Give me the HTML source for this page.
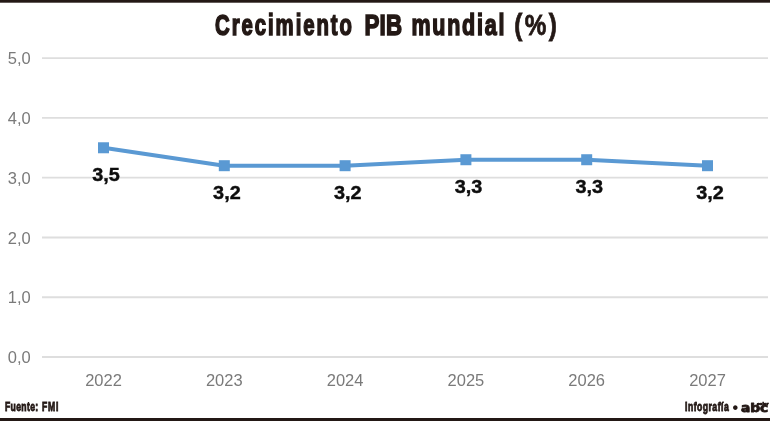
<!DOCTYPE html>
<html lang="es"><head><meta charset="utf-8"><title>Crecimiento PIB mundial (%)</title>
<style>
html,body{margin:0;padding:0;background:#fff;}
body{width:770px;height:421px;overflow:hidden;font-family:"Liberation Sans",sans-serif;}
svg{display:block;}
.ax{font-family:"Liberation Sans",sans-serif;font-size:16.5px;fill:#7a7a7a;}
.dl{font-family:"Liberation Sans",sans-serif;font-size:18.8px;font-weight:bold;fill:#0d0d0d;stroke:#0d0d0d;stroke-width:0.4px;}
.tt{font-family:"Liberation Sans",sans-serif;font-size:28.6px;font-weight:bold;fill:#231815;stroke:#231815;stroke-width:1.4px;stroke-linejoin:miter;vector-effect:non-scaling-stroke;}
.tp{stroke-width:0.7px;}
.ft{font-family:"Liberation Sans",sans-serif;font-size:12px;font-weight:bold;fill:#231815;stroke:#231815;stroke-width:0.7px;stroke-linejoin:miter;vector-effect:non-scaling-stroke;}
.lg{font-family:"DejaVu Sans","Liberation Sans",sans-serif;font-size:12px;font-weight:bold;fill:#231815;stroke:#231815;stroke-width:0.9px;stroke-linejoin:round;vector-effect:non-scaling-stroke;}
.lc{font-family:"Liberation Sans",sans-serif;font-size:2.6px;font-weight:bold;fill:#231815;stroke:#231815;stroke-width:0.5px;}
.bl{font-family:"Liberation Sans",sans-serif;font-size:16px;font-weight:bold;fill:#231815;}
</style></head><body>
<svg width="770" height="421" viewBox="0 0 770 421">
<rect x="0" y="0" width="770" height="421" fill="#ffffff"/>
<rect x="0" y="0" width="770" height="2.7" fill="#231815"/>
<rect x="0" y="418" width="770" height="3" fill="#231815"/>

<line x1="42" y1="357.00" x2="768" y2="357.00" stroke="#dedede" stroke-width="1.9"/>
<text class="ax" x="30.8" y="363.30" text-anchor="end">0,0</text>
<line x1="42" y1="297.22" x2="768" y2="297.22" stroke="#dedede" stroke-width="1.9"/>
<text class="ax" x="30.8" y="303.45" text-anchor="end">1,0</text>
<line x1="42" y1="237.44" x2="768" y2="237.44" stroke="#dedede" stroke-width="1.9"/>
<text class="ax" x="30.8" y="243.60" text-anchor="end">2,0</text>
<line x1="42" y1="177.66" x2="768" y2="177.66" stroke="#dedede" stroke-width="1.9"/>
<text class="ax" x="30.8" y="183.75" text-anchor="end">3,0</text>
<line x1="42" y1="117.88" x2="768" y2="117.88" stroke="#dedede" stroke-width="1.9"/>
<text class="ax" x="30.8" y="123.90" text-anchor="end">4,0</text>
<line x1="42" y1="58.10" x2="768" y2="58.10" stroke="#dedede" stroke-width="1.9"/>
<text class="ax" x="30.8" y="64.05" text-anchor="end">5,0</text>
<text class="ax" x="103.5" y="386.2" text-anchor="middle">2022</text>
<text class="ax" x="224.3" y="386.2" text-anchor="middle">2023</text>
<text class="ax" x="345.1" y="386.2" text-anchor="middle">2024</text>
<text class="ax" x="465.9" y="386.2" text-anchor="middle">2025</text>
<text class="ax" x="586.7" y="386.2" text-anchor="middle">2026</text>
<text class="ax" x="707.5" y="386.2" text-anchor="middle">2027</text>
<polyline fill="none" stroke="#5a99d3" stroke-width="4" stroke-linejoin="round" stroke-linecap="round" points="103.5,147.77 224.3,165.70 345.1,165.70 465.9,159.73 586.7,159.73 707.5,165.70"/>
<rect x="98.0" y="142.27" width="11" height="11" fill="#5a99d3"/>
<rect x="218.8" y="160.20" width="11" height="11" fill="#5a99d3"/>
<rect x="339.6" y="160.20" width="11" height="11" fill="#5a99d3"/>
<rect x="460.4" y="154.23" width="11" height="11" fill="#5a99d3"/>
<rect x="581.2" y="154.23" width="11" height="11" fill="#5a99d3"/>
<rect x="702.0" y="160.20" width="11" height="11" fill="#5a99d3"/>
<text class="dl" x="106.1" y="180.67" text-anchor="middle" textLength="27.6" lengthAdjust="spacingAndGlyphs">3,5</text>
<text class="dl" x="226.9" y="198.60" text-anchor="middle" textLength="27.6" lengthAdjust="spacingAndGlyphs">3,2</text>
<text class="dl" x="347.7" y="198.60" text-anchor="middle" textLength="27.6" lengthAdjust="spacingAndGlyphs">3,2</text>
<text class="dl" x="468.5" y="192.63" text-anchor="middle" textLength="27.6" lengthAdjust="spacingAndGlyphs">3,3</text>
<text class="dl" x="589.3" y="192.63" text-anchor="middle" textLength="27.6" lengthAdjust="spacingAndGlyphs">3,3</text>
<text class="dl" x="710.1" y="198.60" text-anchor="middle" textLength="27.6" lengthAdjust="spacingAndGlyphs">3,2</text>
<text class="tt" transform="translate(215,35.0) scale(0.71,1)" x="0" y="0" textLength="192.96" lengthAdjust="spacing">Crecimiento</text>
<text class="tt" transform="translate(364.6,35.0) scale(0.78,1)" x="0" y="0" textLength="47.95" lengthAdjust="spacing">PIB</text>
<text class="tt" transform="translate(411.4,35.0) scale(0.75,1)" x="0" y="0" textLength="124.00" lengthAdjust="spacing">mundial</text>
<text class="tt tp" transform="translate(514.3,35.0) scale(0.85,1)" x="0" y="0" textLength="50.12" lengthAdjust="spacing">(%)</text>
<text class="ft" transform="translate(5,410.6) scale(0.72,1)" x="0" y="0" textLength="46.11" lengthAdjust="spacing">Fuente:</text>
<text class="ft" transform="translate(41.9,410.6) scale(0.72,1)" x="0" y="0" textLength="22.78" lengthAdjust="spacing">FMI</text>
<text class="ft" transform="translate(685,410.6) scale(0.72,1)" x="0" y="0" textLength="60.69" lengthAdjust="spacing">Infografía</text>
<text class="bl" x="735.3" y="413.4" text-anchor="middle">•</text>
<text class="lg" transform="translate(740.9,411.6) scale(1.15,1.0)" x="0" y="0" textLength="23.74" lengthAdjust="spacing">abc</text>
<text class="lc" x="757" y="404.6" textLength="11.5" lengthAdjust="spacingAndGlyphs">color</text>
</svg></body></html>
